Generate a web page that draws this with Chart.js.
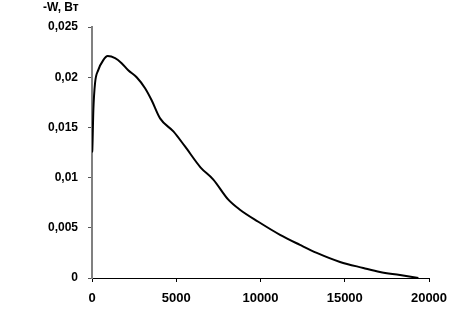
<!DOCTYPE html>
<html>
<head>
<meta charset="utf-8">
<script src="https://cdn.jsdelivr.net/npm/chart.js@4/dist/chart.umd.min.js"></script>
<style>
html,body{margin:0;padding:0;background:#fff;}
canvas{display:block;}
</style>
</head>
<body>
<canvas id="c" width="465" height="313"></canvas>
<script>
const axisTitle = "-W, Вт";
const xValues = [0, 20, 80, 180, 370, 670, 930, 1370, 1760, 2150, 2650, 3150, 3540, 4040, 4830, 5520, 6450, 7200, 8090, 8780, 9870, 11160, 12340, 13340, 14720, 16100, 17090, 18280, 19370];
const wValues = [0.0125, 0.0128, 0.0167, 0.0194, 0.0207, 0.0217, 0.0221, 0.0219, 0.0214, 0.0207, 0.0200, 0.0189, 0.0177, 0.0159, 0.0146, 0.0131, 0.0110, 0.0098, 0.0078, 0.0068, 0.0056, 0.0043, 0.0033, 0.0025, 0.0016, 0.0010, 0.0006, 0.0003, 0.0000];
const yTickLabels = ["0", "0,005", "0,01", "0,015", "0,02", "0,025"];
const xTickLabels = ["0", "5000", "10000", "15000", "20000"];

const points = xValues.map((x, i) => ({x: x, y: wValues[i]}));
const FONT = "'Liberation Sans', Arial, sans-serif";

const titlePlugin = {
  id: 'axisTitleText',
  afterDraw(chart) {
    const ctx = chart.ctx;
    ctx.save();
    ctx.font = "bold 12px " + FONT;
    ctx.fillStyle = "#000";
    ctx.textAlign = "left";
    ctx.textBaseline = "middle";
    ctx.fillText(axisTitle, 43, 8);
    ctx.restore();
  }
};

new Chart(document.getElementById('c'), {
  type: 'line',
  data: {
    datasets: [{
      data: points,
      borderColor: '#000',
      borderWidth: 2,
      pointRadius: 0,
      fill: false,
      tension: 0.3,
      cubicInterpolationMode: 'monotone'
    }]
  },
  options: {
    responsive: false,
    animation: false,
    devicePixelRatio: 1,
    layout: { padding: { left: 0, top: 27, right: 36, bottom: 0 } },
    plugins: { legend: { display: false }, tooltip: { enabled: false } },
    scales: {
      x: {
        type: 'linear',
        min: 0, max: 20000,
        ticks: {
          stepSize: 5000,
          padding: 9,
          maxRotation: 0,
          color: '#000',
          font: { family: FONT, size: 13, weight: 'bold' },
          callback: (v) => { const i = Math.round(v / 5000); return xTickLabels[i]; }
        },
        grid: { drawOnChartArea: false, drawTicks: true, tickLength: 4, color: '#000' },
        border: { color: '#000', width: 1 },
        afterFit: (s) => { s.height = 35; }
      },
      y: {
        type: 'linear',
        min: 0, max: 0.025,
        ticks: {
          stepSize: 0.005,
          padding: 10,
          color: '#000',
          font: { family: FONT, size: 12, weight: 'bold' },
          callback: (v) => { const i = Math.round(v / 0.005); return yTickLabels[i]; }
        },
        grid: { drawOnChartArea: false, drawTicks: true, tickLength: 4, color: '#555' },
        border: { color: '#808080', width: 2 },
        afterFit: (s) => { s.width = 92; }
      }
    }
  },
  plugins: [titlePlugin]
});
</script>
</body>
</html>
